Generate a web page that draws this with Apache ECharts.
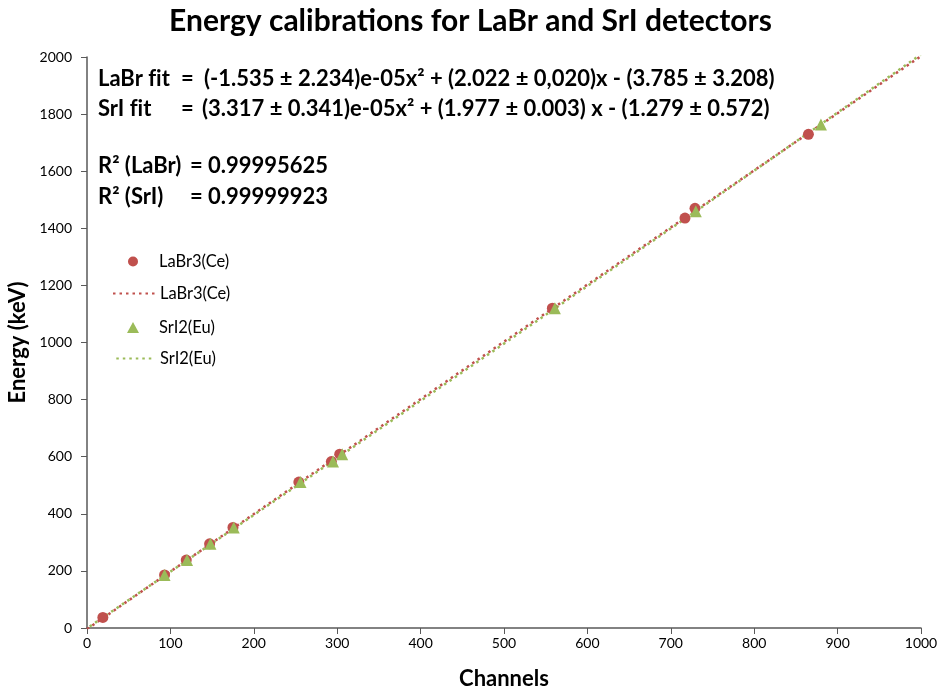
<!DOCTYPE html>
<html><head><meta charset="utf-8">
<script src="https://cdn.jsdelivr.net/npm/echarts@6/dist/echarts.min.js"></script>
<style>html,body{margin:0;padding:0;background:#fff}#c{width:941px;height:691px}</style>
</head><body><div id="c"></div>
<script>
// Data
const labrChannels = [19, 93, 119, 147, 175, 254, 293, 303, 558, 717, 729, 865];
const labrEnergy   = [37, 186, 238, 295, 352, 511, 583, 609, 1120, 1436, 1470, 1729];
const sriChannels  = [93, 120, 148, 176, 256, 295, 306, 561, 730, 880];
const sriEnergy    = [186, 238, 295, 352, 511, 583, 609, 1120, 1460, 1764];
// trend lines (fit curves) read at a few channels
const labrTrendX = [0, 250, 500, 750, 1000];
const labrTrendY = [-4, 500, 1003, 1503, 2003];
const sriTrendX  = [0, 250, 500, 750, 1000];
const sriTrendY  = [-1, 495, 996, 1500, 2009];
const xTicks = [0, 100, 200, 300, 400, 500, 600, 700, 800, 900, 1000];
const yTicks = [0, 200, 400, 600, 800, 1000, 1200, 1400, 1600, 1800, 2000];
const fitLines = [
  ['LaBr f\u200Cit', '=', '(-1.535 ± 2.234)e-05x² + (2.022 ± 0,020)x - (3.785 ± 3.208)'],
  ['SrI f\u200Cit', '=', '(3.317 ± 0.341)e-05x² + (1.977 ± 0.003) x - (1.279 ± 0.572)']
];
const r2Lines = [['R² (LaBr)', '=', '0.99995625'], ['R² (SrI)', '=', '0.99999923']];

const zip = (a, b) => a.map((v, i) => [v, b[i]]);
const RED = '#c0504d', GREEN = '#9bbb59';
const FONT = 'Lato';
const TF = 'bold 22px ' + FONT;

const chart = echarts.init(document.getElementById('c'));
const graphics = [];
fitLines.forEach((l, i) => {
  const y = 81 + i * 30;
  graphics.push({type:'text', left:98, top:y-13, style:{text:l[0], font:TF, fill:'#000'}});
  graphics.push({type:'text', left:181, top:y-13, style:{text:l[1], font:TF, fill:'#000'}});
  graphics.push({type:'text', left:i === 0 ? 204 : 202, top:y-13, style:{text:l[2], font:TF, fill:'#000'}});
});
r2Lines.forEach((l, i) => {
  const y = 168 + i * 31;
  graphics.push({type:'text', left:98, top:y-13, style:{text:l[0], font:TF, fill:'#000'}});
  graphics.push({type:'text', left:190, top:y-13, style:{text:l[1], font:TF, fill:'#000'}});
  graphics.push({type:'text', left:208, top:y-13, style:{text:l[2], font:TF, fill:'#000'}});
});

const legendText = {fontFamily: FONT, fontSize: 16.5, color: '#000'};
const hidden = {color: 'rgba(0,0,0,0)', borderWidth: 0, opacity: 0};
const legends = [
  {left: 128, top: 253, itemWidth: 10, itemHeight: 10, data: [{name: 'LaBr3(Ce)', icon: 'circle'}], textStyle: Object.assign({padding: [0,0,0,16]}, legendText)},
  {left: 112, top: 285, itemWidth: 42, itemHeight: 14, data: [{name: 'LaBr3(Ce) trend', itemStyle: hidden}], textStyle: legendText},
  {left: 127, top: 319, itemWidth: 12, itemHeight: 11, data: [{name: 'SrI2(Eu)', icon: 'triangle'}], textStyle: Object.assign({padding: [0,0,0,15]}, legendText)},
  {left: 112, top: 350, itemWidth: 42, itemHeight: 14, data: [{name: 'SrI2(Eu) trend', itemStyle: hidden}], textStyle: legendText}
].map(l => Object.assign({orient: 'vertical', padding: 0, formatter: n => n.replace(' trend', '')}, l));

chart.setOption({
  animation: false,
  backgroundColor: '#fff',
  title: {text: 'Energy calibrations for LaBr and SrI detectors', left: 'center', top: 1,
    textStyle: {fontFamily: FONT, fontWeight: 'bold', fontSize: 30, color: '#000'}},
  grid: {left: 87, right: 20, top: 57, bottom: 63, containLabel: false, outerBoundsMode: 'none'},
  legend: legends,
  xAxis: {
    type: 'value', min: 0, max: 1000, interval: 100,
    name: 'Channels', nameLocation: 'middle', nameGap: 40,
    nameTextStyle: {fontFamily: FONT, fontWeight: 'bold', fontSize: 22, color: '#000'},
    axisLine: {lineStyle: {color: '#595959', width: 1.5}},
    axisTick: {show: true, length: 6, lineStyle: {color: '#595959'}},
    axisLabel: {fontFamily: FONT, fontSize: 14, color: '#000', margin: 8,
      formatter: v => xTicks.includes(v) ? String(v) : ''},
    splitLine: {show: false}
  },
  yAxis: {
    type: 'value', min: 0, max: 2000, interval: 200,
    name: 'Energy (keV)', nameLocation: 'middle', nameGap: 56, nameRotate: 90,
    nameTextStyle: {fontFamily: FONT, fontWeight: 'bold', fontSize: 22, color: '#000'},
    axisLine: {show: true, lineStyle: {color: '#595959', width: 1.5}},
    axisTick: {show: true, length: 6, lineStyle: {color: '#595959'}},
    axisLabel: {fontFamily: FONT, fontSize: 14, color: '#000', margin: 15,
      formatter: v => yTicks.includes(v) ? String(v) : ''},
    splitLine: {show: false}
  },
  graphic: graphics,
  series: [
    {name: 'LaBr3(Ce) trend', type: 'line', data: zip(labrTrendX, labrTrendY), symbol: 'none', smooth: false,
      itemStyle: {color: RED}, lineStyle: {color: RED, width: 2.5, type: [2.5, 4]}, z: 2},
    {name: 'SrI2(Eu) trend', type: 'line', data: zip(sriTrendX, sriTrendY), symbol: 'none', smooth: false,
      itemStyle: {color: GREEN}, lineStyle: {color: GREEN, width: 2.5, type: [2.5, 4], dashOffset: 3.2}, z: 2},
    {name: 'LaBr3(Ce)', type: 'scatter', data: zip(labrChannels, labrEnergy), symbol: 'circle', symbolSize: 11,
      itemStyle: {color: RED, opacity: 1}, z: 3},
    {name: 'SrI2(Eu)', type: 'scatter', data: zip(sriChannels, sriEnergy), symbol: 'triangle', symbolSize: 12,
      itemStyle: {color: GREEN, opacity: 1}, z: 4}
  ]
});
</script></body></html>
